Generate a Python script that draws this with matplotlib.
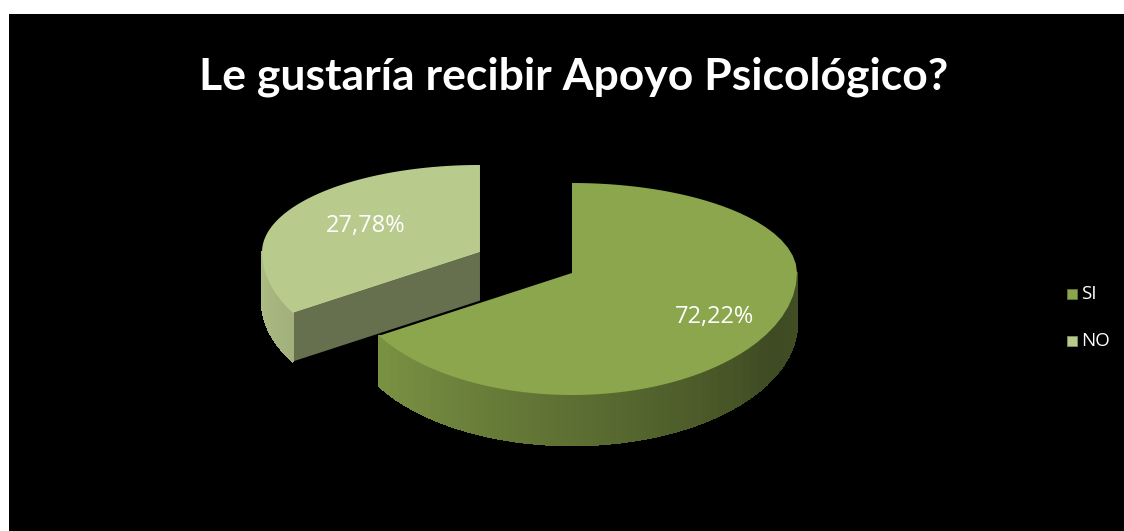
import numpy as np
import matplotlib.pyplot as plt
from matplotlib.patches import Polygon, Rectangle

# data
title = "Le gustaría recibir Apoyo Psicológico?"
categories = ["SI", "NO"]
values = [72.22, 27.78]
value_labels = ["72,22%", "27,78%"]

# style
top_colors = [(139, 166, 76), (185, 202, 141)]
explode = [0.0, 0.47]
label_radius = [0.73, 0.6]
W, H = 1124, 531

# pie geometry (pixels): vertex of the main slice, radii, thickness
cx, cy = 572, 273
rx, ry_up, ry_down = 225, 90, 122
depth = 50
tilt = 3.4  # excel-like foreshortening of slice angles


def rgb(c, f=1.0):
    return tuple(min(1, v * f / 255) for v in c)


def warp(theta_deg):
    th = np.radians(theta_deg)
    return np.unwrap(np.arctan2(tilt * np.sin(th), np.cos(th)))


def ell(t, vx, vy, sc=1.0):
    ry = np.where(np.sin(t) >= 0, ry_up, ry_down)
    return vx + sc * rx * np.cos(t), vy - sc * ry * np.sin(t)


fig = plt.figure(figsize=(W / 100, H / 100), dpi=100, facecolor="white")
ax = fig.add_axes([0, 0, 1, 1])
ax.set_xlim(0, W)
ax.set_ylim(H, 0)
ax.axis("off")
ax.add_patch(Rectangle((9, 14), W - 9, H - 14, facecolor="black", edgecolor="none"))

ax.text(W / 2 + 12, 77, title, color="white", fontsize=32, fontweight="bold",
        family=["Lato", "DejaVu Sans"], ha="center", va="center")

# slice angles, first slice at 12 o'clock going clockwise
bounds = 90 - np.concatenate([[0], np.cumsum(values)]) * 3.6
slices = []
for i, v in enumerate(values):
    th = np.linspace(bounds[i], bounds[i + 1], 160)
    t = warp(th)
    tmid = (t[0] + t[-1]) / 2
    vx = cx + explode[i] * rx * np.cos(tmid)
    vy = cy - explode[i] * (ry_up if np.sin(tmid) >= 0 else ry_down) * np.sin(tmid)
    slices.append((i, t, tmid, vx, vy))

# back slices first
for i, t, tmid, vx, vy in sorted(slices, key=lambda s: s[4]):
    base = top_colors[i]
    sc = 1 - 0.0015 * (cy - vy)  # farther slices look a bit smaller
    xs, ys = ell(t, vx, vy, sc)
    d = depth * sc

    # radial faces that look toward the viewer
    for k, other in ((0, -1), (-1, 0)):
        s = np.sign(t[other] - t[k])
        if -s * np.cos(t[k]) < -1e-6:
            ex, ey = xs[k], ys[k]
            ax.add_patch(Polygon([(vx, vy), (ex, ey), (ex, ey + d), (vx, vy + d)],
                                 closed=True, facecolor=rgb(base, 0.55), edgecolor="none"))

    # outer wall, front half only, shaded strips
    for j in range(len(t) - 1):
        if np.sin(t[j]) < 0 or np.sin(t[j + 1]) < 0:
            deg = np.degrees(np.mod((t[j] + t[j + 1]) / 2, 2 * np.pi))
            f = np.interp(deg, [180, 215, 330, 360], [0.93, 0.87, 0.45, 0.47])
            quad = [(xs[j], ys[j]), (xs[j + 1], ys[j + 1]),
                    (xs[j + 1], ys[j + 1] + d), (xs[j], ys[j] + d)]
            ax.add_patch(Polygon(quad, closed=True, facecolor=rgb(base, f),
                                 edgecolor=rgb(base, f), linewidth=1.2, antialiased=False))

    top = np.column_stack([np.r_[vx, xs], np.r_[vy, ys]])
    ax.add_patch(Polygon(top, closed=True, facecolor=rgb(base), edgecolor="none"))

    lx, ly = ell(np.array(tmid), vx, vy, sc)
    lr = label_radius[i]
    ax.text(vx + lr * (lx - vx), vy + lr * (ly - vy), value_labels[i], color="white",
            fontsize=17, family=["Open Sans", "DejaVu Sans"], ha="center", va="center")

# legend
for i, name in enumerate(categories):
    y = 294 + i * 47
    ax.add_patch(Rectangle((1067, y - 5), 10, 10, facecolor=rgb(top_colors[i]),
                           edgecolor=rgb(top_colors[i], 0.7), linewidth=0.6))
    ax.text(1081, y, name, color="white", fontsize=13.5,
            family=["Open Sans", "DejaVu Sans"], ha="left", va="center")

fig.savefig("out.png", dpi=100, facecolor="white")
